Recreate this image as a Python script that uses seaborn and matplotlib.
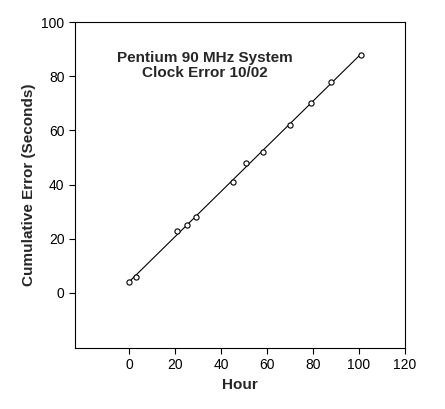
import matplotlib
matplotlib.use("Agg")
import matplotlib.pyplot as plt
import seaborn as sns
import numpy as np

sns.set_style("white")
plt.rcParams['font.family'] = ['Liberation Sans', 'DejaVu Sans']

hours = [0, 3, 21, 25, 29, 45, 51, 58, 70, 79, 88, 101]
errors = [4, 6, 23, 25, 28, 41, 48, 52, 62, 70, 78, 88]

fig = plt.figure(figsize=(4.45, 4.09), dpi=100)
ax = fig.add_axes([75/445, 1-348/409, 330/445, 326/409])

coef = np.polyfit(hours, errors, 1)
xl = np.array([min(hours), max(hours)])
ax.plot(xl, np.polyval(coef, xl), color='black', lw=0.8)
sns.scatterplot(x=hours, y=errors, ax=ax, marker='o', s=14, facecolor='white',
                edgecolor='black', linewidth=0.8, zorder=3)

ax.set_xlim(-23.6, 120)
ax.set_ylim(-20.3, 100)
ax.set_xticks([0, 20, 40, 60, 80, 100, 120])
ax.set_yticks([0, 20, 40, 60, 80, 100])
for s in ax.spines.values():
    s.set_color('black'); s.set_linewidth(0.8)
ax.tick_params(direction='out', length=4, width=0.8, colors='black', labelsize=10, bottom=True, left=True)
ax.set_xlabel('Hour', fontsize=11, fontweight='bold')
ax.set_ylabel('Cumulative Error (Seconds)', fontsize=11, fontweight='bold')
ax.text(33, 84, 'Pentium 90 MHz System\nClock Error 10/02', ha='center', va='center',
        fontsize=11, fontweight='bold', linespacing=1.1)
fig.savefig('out.png', dpi=100)
